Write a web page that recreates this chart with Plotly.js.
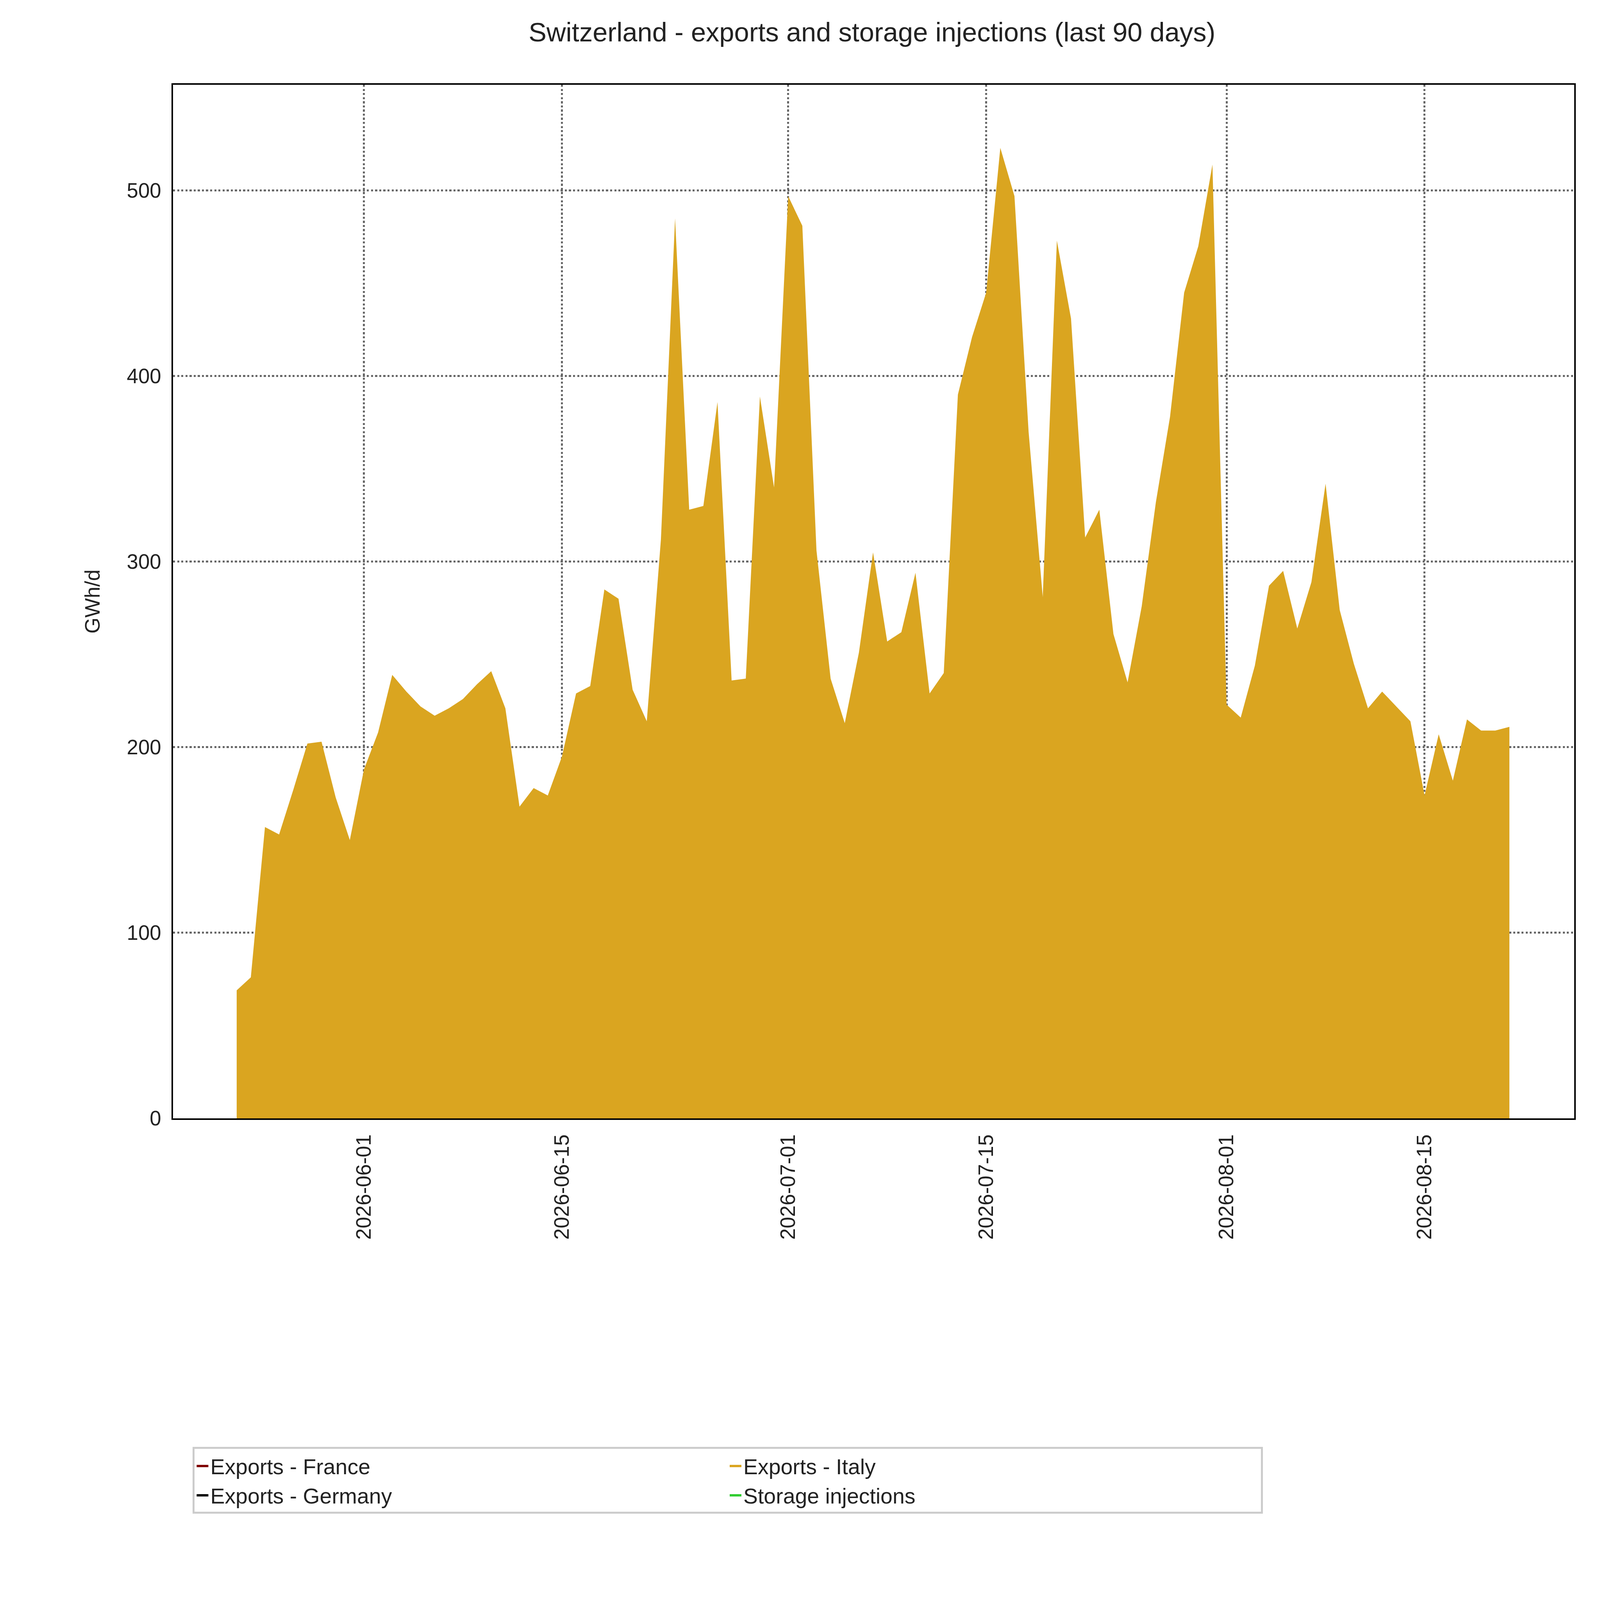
<!DOCTYPE html>
<html>
<head>
<meta charset="utf-8">
<script src="https://cdn.plot.ly/plotly-3.0.1.min.js"></script>
<style>html,body{margin:0;padding:0;background:#fff;overflow:hidden}</style>
</head>
<body>
<div id="chart"></div>
<script>
const startDate = "2026-05-23";
const italy = [
  69, 76, 157, 153, 177, 202, 203, 173, 150,
  188, 208, 239, 230, 222, 217, 221, 226, 234, 241, 221, 168, 178, 174, 195,
  229, 233, 285, 280, 231, 214, 312, 485, 328, 330, 386, 236, 237, 389, 340,
  497, 481, 306, 237, 213, 251, 305, 257, 262, 294, 229, 240, 390, 421, 445,
  523, 497, 370, 281, 473, 431, 313, 328, 261, 235, 276, 332, 378, 445, 470, 514,
  223, 216, 244, 287, 295, 264, 289, 342, 274, 245, 221, 230, 222, 214, 174,
  207, 182, 215, 209, 209, 211
];
const france = italy.map(() => 0);
const germany = italy.map(() => 0);
const storage = italy.map(() => 0);

const dates = italy.map((_, i) => {
  const d = new Date(startDate + "T00:00:00Z");
  d.setUTCDate(d.getUTCDate() + i);
  return d.toISOString().slice(0, 10);
});

// size everything from the real viewport, reference drawn at 1552x1568
const W = window.innerWidth, H = window.innerHeight;
const S = W / 1552, SY = H / 1568;

const area = (name, y, color) => ({
  type: "scatter", mode: "lines", x: dates, y: y, name: name,
  stackgroup: "one", fillcolor: color, line: {width: 0, color: color}
});

// order chosen so a 2-column horizontal legend reads column-wise like the original
const data = [
  area("Exports - France", france, "#800000"),
  area("Exports - Italy", italy, "#DAA520"),
  area("Exports - Germany", germany, "#000000"),
  area("Storage injections", storage, "#32CD32")
];

const grid = {showgrid: true, gridcolor: "#666", griddash: "dot", gridwidth: 2 * S};
const plotH = (1096 - 83) * SY;
const layout = {
  width: W, height: H,
  margin: {l: 168 * S, r: (1552 - 1527) * S, t: 83 * SY, b: (1568 - 1096) * SY},
  paper_bgcolor: "#fff", plot_bgcolor: "#fff",
  font: {family: "Liberation Sans, Arial, sans-serif", color: "#222", size: 20 * S},
  title: {text: "Switzerland - exports and storage injections (last 90 days)",
          font: {size: 26 * S}, x: 0.545, xanchor: "center", y: 1 - 22 * SY / H * 1, yanchor: "top"},
  xaxis: Object.assign({
    type: "date", range: ["2026-05-18 12:00", "2026-08-25 14:00"],
    tickvals: ["2026-06-01", "2026-06-15", "2026-07-01", "2026-07-15", "2026-08-01", "2026-08-15"],
    ticktext: ["2026-06-01", "2026-06-15", "2026-07-01", "2026-07-15", "2026-08-01", "2026-08-15"],
    tickangle: -90, ticks: "outside", ticklen: 6 * S, tickcolor: "#fff",
    showline: true, linecolor: "#000", linewidth: 1.5 * S,
    mirror: true, zeroline: false, tickfont: {size: 20 * S}
  }, grid),
  yaxis: Object.assign({
    range: [0, 557], tickvals: [0, 100, 200, 300, 400, 500], ticks: "outside", ticklen: 6 * S, tickcolor: "#fff",
    showline: true, linecolor: "#000", linewidth: 1.5 * S, mirror: true, zeroline: false,
    title: {text: "GWh/d", font: {size: 20 * S}, standoff: 20 * S},
    tickfont: {size: 20 * S}
  }, grid),
  showlegend: true,
  legend: {
    orientation: "h", x: (187 - 168) / (1527 - 168), y: -(1418 - 1096) * SY / plotH,
    xanchor: "left", yanchor: "top",
    traceorder: "normal", entrywidth: 500 * S, entrywidthmode: "pixels",
    font: {size: 21 * S}, bordercolor: "#ccc", borderwidth: 2 * S, bgcolor: "#fff"
  }
};
Plotly.newPlot("chart", data, layout, {displayModeBar: false});
</script>
</body>
</html>
